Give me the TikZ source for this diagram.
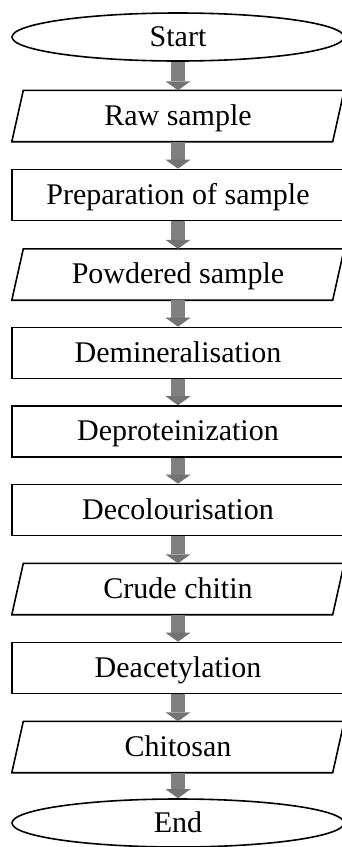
\documentclass[tikz,border=0pt]{standalone}
\usepackage{fontspec}
\setmainfont{Liberation Serif}
\usetikzlibrary{shapes.geometric}
\definecolor{flowgray}{RGB}{128,128,128}
\definecolor{headgray}{RGB}{118,114,114}
\begin{document}
\begin{tikzpicture}[x=1pt,y=-1pt,
  every node/.style={font=\fontsize{30}{36}\selectfont, inner sep=0pt, text height=20pt, text depth=2pt},
  procbox/.style={draw, line width=1.6pt, rectangle, minimum width=332pt, minimum height=51pt},
  iobox/.style={rectangle, minimum width=332pt, minimum height=51pt},
  term/.style={draw, line width=1.6pt, ellipse, minimum width=332pt, minimum height=48pt},
  slantline/.style={line width=1.6pt, line join=miter},
  shaft/.style={fill=flowgray},
  head/.style={fill=headgray},
]
\useasboundingbox (0,0) rectangle (342,847);

\node[term]    (nStart)  at (178,37)    {Start};
\node[iobox]   (nRaw)    at (178,116)   {Raw sample};
\node[procbox] (nPrep)   at (178,195)   {Preparation of sample};
\node[iobox]   (nPowder) at (178,274.5) {Powdered sample};
\node[procbox] (nDemin)  at (178,353)   {Demineralisation};
\node[procbox] (nDeprot) at (178,431.5) {Deproteinization};
\node[procbox] (nDecol)  at (178,510)   {Decolourisation};
\node[iobox]   (nCrude)  at (178,589)   {Crude chitin};
\node[procbox] (nDeacet) at (178,668)   {Deacetylation};
\node[iobox]   (nChito)  at (178,747)   {Chitosan};
\node[term]    (nEnd)    at (178,823)   {End};

\foreach \n in {nRaw,nPowder,nCrude,nChito}{
  \draw[slantline] ([xshift=11.5pt]\n.north west) -- (\n.north east)
    -- ([xshift=-11.5pt]\n.south east) -- (\n.south west) -- cycle;
}

\foreach \a/\b in {nStart/nRaw,nRaw/nPrep,nPrep/nPowder,nPowder/nDemin,nDemin/nDeprot,nDeprot/nDecol,nDecol/nCrude,nCrude/nDeacet,nDeacet/nChito,nChito/nEnd}{
  \fill[shaft] ([xshift=-7pt]\a.south) -- ([xshift=7pt]\a.south)
    -- ([xshift=7pt,yshift=9pt]\b.north) -- ([xshift=-7pt,yshift=9pt]\b.north) -- cycle;
  \fill[head] ([xshift=-12.5pt,yshift=9pt]\b.north) -- ([xshift=12.5pt,yshift=9pt]\b.north)
    -- (\b.north) -- cycle;
}
\end{tikzpicture}
\end{document}
